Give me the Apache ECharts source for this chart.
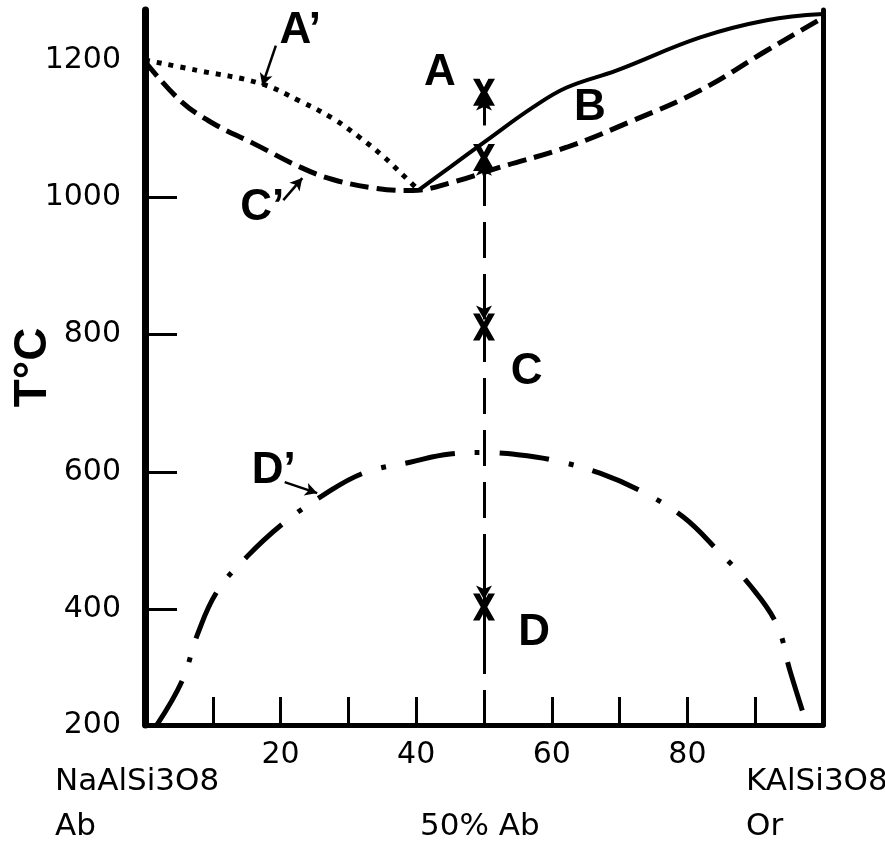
<!DOCTYPE html>
<html>
<head>
<meta charset="utf-8">
<script src="https://cdn.jsdelivr.net/npm/echarts@6/dist/echarts.min.js"></script>
<style>html,body{margin:0;padding:0;background:#fff}#c{width:885px;height:843px}</style>
</head>
<body>
<div id="c"></div>
<script>
// ---- data (x = % composition, y = temperature °C) ----
var yMin = 231, yMax = 1273;
var xTickValues = [10, 20, 30, 40, 50, 60, 70, 80, 90];
var xLabelValues = [20, 40, 60, 80];
var yTickValues = [400, 600, 800, 1000];
var yLabelValues = [yMin, 400, 600, 800, 1000, 1200];
var yLabelTexts = ['200', '400', '600', '800', '1000', '1200'];

// A' : liquidus, Ab side (dotted)
var liquidusAb = [[0,1200],[7.7,1185],[17,1166],[22.9,1140],[27.7,1115],[31.7,1087],[35.1,1060],[38,1033],[40.3,1011]];
// C' + B : solidus (dashed)
var solidus = [[0,1198],[5.2,1141],[10,1108],[15.9,1079],[22.9,1044],[27.7,1026],[34.2,1013],[39.5,1010],[45,1021],[52.4,1044],[62.2,1073],[72,1112],[81.9,1156],[91.7,1214],[98.8,1255],[100,1262]];
// A : liquidus, Or side (solid)
var liquidusOr = [[40.3,1010],[45,1044],[50.4,1083],[57.2,1131],[62.2,1160],[69.6,1185],[81.9,1233],[91.7,1258],[100,1267]];
// D' : solvus (dash-dot)
var solvus = [[1.8,232],[5.5,296],[7.7,362],[10.6,425],[15,476],[20.4,525],[26.3,566],[32.2,598],[39.1,614],[45,626],[50,628],[55,625],[60.2,617],[67.1,598],[73.5,570],[79.4,534],[84.4,486],[89.2,435],[93.2,377],[95.1,311],[97.6,232]];

// cooling path of the 50% Ab melt
var pathX = 50;
var pathMarks = [1153, 1058, 811, 403];
var pathSegmentsSolid = [[1105,1147],[1040,1052],[340,470]];
var pathDashed = [1040, yMin];
var pathArrowUp = [[1105,1147],[1040,1052]];
var pathArrowDown = [[860,822],[470,414]];

// annotation letters [x, y, text]
var letters = [[43.5,1182,'A'],[22.9,1243,'A\u2019'],[65.6,1131,'B'],[17.3,985,'C\u2019'],[56.3,745,'C'],[57.4,366,'D'],[19.0,602,'D\u2019']];
// pointer arrows [[x0,y0],[x1,y1]]
var pointers = [[[19.3,1221],[17.3,1163]],[[20.4,996],[23.2,1028]],[[20.6,585],[25.4,569]]];

// ---- chart ----
var chart = echarts.init(document.getElementById('c'));
var txtFont = 'DejaVu Sans';
var lblFont = 'Liberation Sans';
var xPath = 'path://M0,0L3.6,0L6,4L8.4,0L12,0L7.8,6.5L12,13L8.4,13L6,9L3.6,13L0,13L4.2,6.5Z';

var markLineData = [];
pathSegmentsSolid.forEach(function(s){
  markLineData.push([{coord:[pathX,s[0]],symbol:'none',lineStyle:{type:'solid',width:3}},{coord:[pathX,s[1]],symbol:'none'}]);
});
markLineData.push([{coord:[pathX,pathDashed[0]],symbol:'none',lineStyle:{type:[36,16],width:3}},{coord:[pathX,pathDashed[1]],symbol:'none'}]);
pathArrowUp.concat(pathArrowDown).forEach(function(s){
  markLineData.push([{coord:[pathX,s[0]],symbol:'none',lineStyle:{type:'solid',width:3}},{coord:[pathX,s[1]],symbol:'arrow',symbolSize:[12,14]}]);
});
pointers.forEach(function(p){
  markLineData.push([{coord:p[0],symbol:'none',lineStyle:{type:'solid',width:2.5}},{coord:p[1],symbol:'arrow',symbolSize:[10,12]}]);
});

var curveBase = {type: 'line', smooth: 0.4, symbol: 'none', silent: true};
function curve(data, ls){ return Object.assign({}, curveBase, {data: data, lineStyle: Object.assign({color: '#000', opacity: 1}, ls)}); }

var option = {
  animation: false,
  backgroundColor: '#fff',
  grid: {left: 145, right: 62, top: 10, bottom: 118, containLabel: false, outerBoundsMode: 'none'},
  xAxis: {
    type: 'value', min: 0, max: 100, interval: 10,
    axisLine: {show: true, lineStyle: {color: '#000', width: 5}},
    axisTick: {show: true, inside: true, length: 28, lineStyle: {color: '#000', width: 3}, customValues: xTickValues},
    axisLabel: {show: true, margin: 15, color: '#000', fontFamily: txtFont, fontSize: 30, customValues: xLabelValues},
    splitLine: {show: false}
  },
  yAxis: [{
    type: 'value', min: yMin, max: yMax, position: 'left',
    name: 'T\u00b0C', nameLocation: 'middle', nameRotate: 90, nameGap: 89, nameMoveOverlap: false,
    nameTextStyle: {color: '#000', fontFamily: lblFont, fontWeight: 'bold', fontSize: 46},
    axisLine: {show: true, lineStyle: {color: '#000', width: 7}},
    axisTick: {show: true, inside: true, length: 32, lineStyle: {color: '#000', width: 3}, customValues: yTickValues},
    axisLabel: {show: true, margin: 24, color: '#000', fontFamily: txtFont, fontSize: 30, customValues: yLabelValues,
      formatter: function(v){ var i = yLabelValues.indexOf(v); return i >= 0 ? yLabelTexts[i] : ''; }},
    splitLine: {show: false}
  },{
    type: 'value', min: yMin, max: yMax, position: 'right',
    axisLine: {show: true, lineStyle: {color: '#000', width: 5}},
    axisTick: {show: false}, axisLabel: {show: false}, splitLine: {show: false}
  }],
  series: [
    curve(liquidusAb, {width: 5, type: [5, 7]}),
    curve(solidus, {width: 5, type: [19, 8]}),
    curve(liquidusOr, {width: 4, type: 'solid'}),
    curve(solvus, {width: 5, type: [50, 20, 5, 20]}),
    {type: 'scatter', data: pathMarks.map(function(y){return [pathX, y];}), symbol: xPath, symbolSize: [22, 27],
      itemStyle: {color: '#000', opacity: 1}, z: 5, silent: true,
      markLine: {silent: true, animation: false, label: {show: false}, lineStyle: {color: '#000', opacity: 1}, data: markLineData}},
    {type: 'scatter', data: letters.map(function(l){return [l[0], l[1], l[2]];}), symbolSize: 1, silent: true,
      itemStyle: {opacity: 0},
      label: {show: true, position: 'inside', formatter: function(p){return p.data[2];}, color: '#000', opacity: 1,
        textBorderWidth: 0, fontFamily: lblFont, fontWeight: 'bold', fontSize: 44}}
  ],
  graphic: [
    {type: 'text', left: 55, top: 766, style: {text: 'NaAlSi3O8', font: '31px "DejaVu Sans"', fill: '#000'}},
    {type: 'text', left: 55, top: 811, style: {text: 'Ab', font: '31px "DejaVu Sans"', fill: '#000'}},
    {type: 'text', left: 420, top: 811, style: {text: '50% Ab', font: '31px "DejaVu Sans"', fill: '#000'}},
    {type: 'text', left: 746, top: 766, style: {text: 'KAlSi3O8', font: '31px "DejaVu Sans"', fill: '#000'}},
    {type: 'text', left: 746, top: 811, style: {text: 'Or', font: '31px "DejaVu Sans"', fill: '#000'}}
  ]
};
chart.setOption(option);
</script>
</body>
</html>
